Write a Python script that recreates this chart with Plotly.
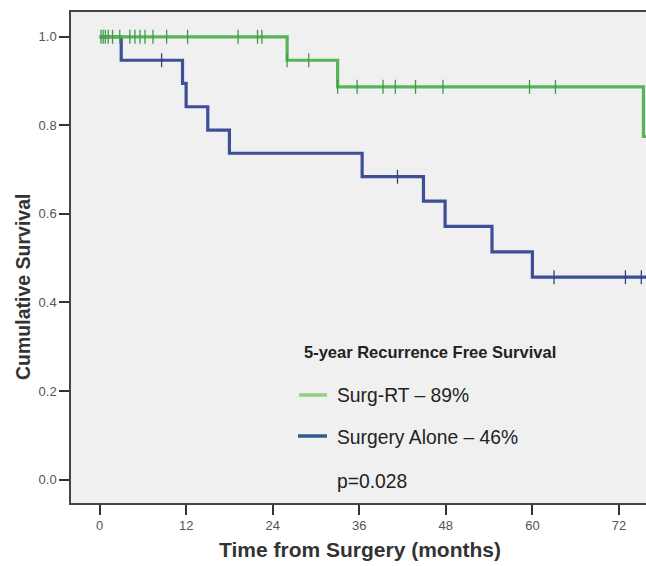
import numpy as np
import plotly.graph_objects as go

# ---- data ----
surgrt_event_months = [0.0, 26.0, 33.0, 75.4]
surgrt_survival = [1.0, 0.947, 0.887, 0.775]
surgrt_end_month = 76.5
surgrt_censor_months = [0.2, 0.5, 0.8, 1.2, 1.8, 2.8, 4.2, 4.9, 5.6, 6.3, 7.4, 9.3,
                        12.2, 19.2, 21.9, 22.5, 26.0, 29.0, 33.0, 35.7, 39.3, 41.0,
                        43.8, 47.6, 59.6, 63.2]

alone_event_months = [0.0, 3.0, 11.5, 12.0, 15.0, 18.0, 36.4, 44.9, 47.9, 54.4, 60.0]
alone_survival = [1.0, 0.947, 0.895, 0.842, 0.789, 0.737, 0.684, 0.629, 0.572, 0.514, 0.457]
alone_end_month = 76.5
alone_censor_months = [8.6, 41.3, 63.0, 72.9, 75.1]

x_ticks = [0, 12, 24, 36, 48, 60, 72]
y_ticks = [0.0, 0.2, 0.4, 0.6, 0.8, 1.0]

legend_title = "5-year Recurrence Free Survival"
legend_labels = ["Surg-RT \u2013 89%", "Surgery Alone \u2013 46%"]
p_text = "p=0.028"

GREEN = "#55b558"
GREEN_DARK = "#3f9a45"
BLUE = "#3c4f98"
BLUE_DARK = "#34447f"
LEG_GREEN = "#92d07c"
LEG_BLUE = "#2f5d88"


def step_value(times, surv, t):
    idx = np.searchsorted(np.array(times), t, side="right") - 1
    return np.array(surv)[idx]


fig = go.Figure()

for times, surv, end, cens, col, dcol in [
    (alone_event_months, alone_survival, alone_end_month, alone_censor_months, BLUE, BLUE_DARK),
    (surgrt_event_months, surgrt_survival, surgrt_end_month, surgrt_censor_months, GREEN, GREEN_DARK),
]:
    xs = list(times) + [end]
    ys = list(surv) + [surv[-1]]
    fig.add_trace(go.Scatter(x=xs, y=ys, mode="lines", line=dict(color=col, width=3.2, shape="hv"),
                             showlegend=False, hoverinfo="skip"))
    cy = [float(step_value(times, surv, t)) for t in cens]
    fig.add_trace(go.Scatter(x=cens, y=cy, mode="markers",
                             marker=dict(symbol="line-ns", size=10,
                                         line=dict(color=dcol, width=1.3)),
                             showlegend=False, hoverinfo="skip"))

# plot area in pixels: left 70.7, right 646, top 12.3, bottom 502.7
W, H = 646, 566
L, R, T, B = 71, 0, 12, 63
pw = W - L - R
ph = H - T - B


def px_x(px):
    return (px - L) / pw


def px_y(py):
    return 1 - (py - T) / ph


fig.update_layout(
    width=W, height=H,
    margin=dict(l=L, r=R, t=T, b=B, pad=0),
    paper_bgcolor="white",
    plot_bgcolor="#f0f0f0",
    font=dict(family="Liberation Sans, Arial, sans-serif", color="#333333"),
    xaxis=dict(range=[-3.96, 75.75], tickvals=x_ticks, ticktext=[str(v) for v in x_ticks],
               ticks="outside", ticklen=10, tickwidth=1.5, tickcolor="#333",
               showline=True, linecolor="#444", linewidth=1.5, mirror=True,
               showgrid=False, zeroline=False,
               tickfont=dict(size=13, color="#555")),
    yaxis=dict(range=[-0.053, 1.056], tickvals=y_ticks, ticktext=[f"{v:.1f}" for v in y_ticks],
               ticks="outside", ticklen=10, tickwidth=1.5, tickcolor="#333",
               showline=True, linecolor="#444", linewidth=1.5, mirror=False,
               showgrid=False, zeroline=False,
               tickfont=dict(size=13, color="#555")),
)

annotations = [
    dict(text="<b>Time from Surgery (months)</b>", x=px_x(360), y=px_y(549), xref="paper", yref="paper",
         showarrow=False, font=dict(size=21, color="#333"), xanchor="center", yanchor="middle"),
    dict(text="<b>Cumulative Survival</b>", x=px_x(23), y=px_y(287), xref="paper", yref="paper",
         showarrow=False, font=dict(size=19.5, color="#333"), textangle=-90,
         xanchor="center", yanchor="middle"),
    dict(text="<b>" + legend_title + "</b>", x=px_x(302), y=px_y(352), xref="paper", yref="paper",
         showarrow=False, font=dict(size=16.5, color="#222"), xanchor="left", yanchor="middle"),
    dict(text=legend_labels[0], x=px_x(335), y=px_y(395), xref="paper", yref="paper",
         showarrow=False, font=dict(size=19.3, color="#222"), xanchor="left", yanchor="middle"),
    dict(text=legend_labels[1], x=px_x(335), y=px_y(437), xref="paper", yref="paper",
         showarrow=False, font=dict(size=19.3, color="#222"), xanchor="left", yanchor="middle"),
    dict(text=p_text, x=px_x(335), y=px_y(481), xref="paper", yref="paper",
         showarrow=False, font=dict(size=19.3, color="#222"), xanchor="left", yanchor="middle"),
]
fig.update_layout(annotations=annotations)

shapes = [
    dict(type="line", xref="paper", yref="paper", x0=px_x(299), x1=px_x(327), y0=px_y(395), y1=px_y(395),
         line=dict(color=LEG_GREEN, width=3.5)),
    dict(type="line", xref="paper", yref="paper", x0=px_x(298), x1=px_x(327), y0=px_y(436), y1=px_y(436),
         line=dict(color=LEG_BLUE, width=3.5)),
]
fig.update_layout(shapes=shapes)

fig.write_html("out.html", config={"displayModeBar": False},
               post_script="document.body.style.margin='0';document.body.style.overflow='hidden';")
